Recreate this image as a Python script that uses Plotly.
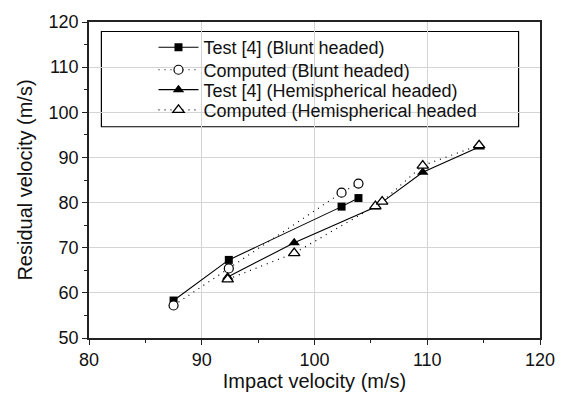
import plotly.graph_objects as go

# Data
blunt_test_x = [87.5, 92.4, 102.4, 103.9]
blunt_test_y = [58.3, 67.3, 79.1, 81.0]

blunt_comp_x = [87.5, 92.4, 102.4, 103.9]
blunt_comp_y = [57.2, 65.4, 82.2, 84.2]

hemi_test_x = [92.3, 98.2, 105.4, 109.6, 114.6]
hemi_test_y = [63.5, 71.1, 79.0, 86.7, 92.3]

hemi_comp_x = [92.3, 98.2, 105.4, 106.0, 109.6, 114.6]
hemi_comp_y = [63.0, 68.8, 79.2, 80.2, 88.2, 92.7]

names = [
    "Test [4] (Blunt headed)",
    "Computed (Blunt headed)",
    "Test [4] (Hemispherical headed)",
    "Computed (Hemispherical headed",
]

x_ticks = [80, 90, 100, 110, 120]
y_ticks = [50, 60, 70, 80, 90, 100, 110, 120]

FONT = "Liberation Sans, Arial, sans-serif"
DOT = "1px,5px"

fig = go.Figure()
fig.add_trace(go.Scatter(
    x=blunt_test_x, y=blunt_test_y, mode="lines+markers", name=names[0], legend="legend",
    line=dict(color="black", width=1.1),
    marker=dict(symbol="square", size=8, color="black"),
))
fig.add_trace(go.Scatter(
    x=blunt_comp_x, y=blunt_comp_y, mode="lines+markers", name=names[1], legend="legend2",
    line=dict(color="black", width=1.2, dash=DOT),
    marker=dict(symbol="circle", size=9, color="white", line=dict(color="black", width=1.2)),
))
fig.add_trace(go.Scatter(
    x=hemi_test_x, y=hemi_test_y, mode="lines+markers", name=names[2], legend="legend3",
    line=dict(color="black", width=1.1),
    marker=dict(symbol="triangle-up", size=10, color="black"),
))
fig.add_trace(go.Scatter(
    x=hemi_comp_x, y=hemi_comp_y, mode="lines+markers", name=names[3], legend="legend4",
    line=dict(color="black", width=1.2, dash=DOT),
    marker=dict(symbol="triangle-up", size=10, color="white", line=dict(color="black", width=1.3)),
))

# Legend frame
fig.add_shape(type="rect", xref="x", yref="y", x0=81.1, x1=118.1, y0=96.8, y1=117.9,
              line=dict(color="black", width=1.2), fillcolor="white", layer="below")

axis_common = dict(
    showline=True, linecolor="#222", linewidth=1.5, mirror=True,
    showgrid=True, gridcolor="#d4d4d4", gridwidth=1.2,
    ticks="outside", ticklen=5, tickwidth=1.2, tickcolor="#222",
    tickfont=dict(family=FONT, size=18, color="#111"),
    zeroline=False,
    minor=dict(ticks="outside", ticklen=3, tickwidth=1.2, tickcolor="#222", dtick=5, showgrid=False),
)

fig.update_xaxes(range=[80, 120], tickvals=x_ticks,
                 title=dict(text="Impact velocity (m/s)", font=dict(family=FONT, size=20, color="#111"), standoff=4),
                 **axis_common)
fig.update_yaxes(range=[50, 120], tickvals=y_ticks,
                 title=dict(text="Residual velocity (m/s)", font=dict(family=FONT, size=20, color="#111"), standoff=11),
                 **axis_common)

leg = dict(
    x=0.143, xanchor="left", yanchor="middle",
    bgcolor="rgba(0,0,0,0)", borderwidth=0,
    font=dict(family=FONT, size=18, color="#111"),
    itemwidth=40,
)
row_y = [0.919, 0.848, 0.785, 0.721]

fig.update_layout(
    width=567, height=400,
    margin=dict(l=89, r=24, t=16, b=57),
    paper_bgcolor="white", plot_bgcolor="white",
    font=dict(family=FONT, color="#111"),
    showlegend=True,
    legend=dict(leg, y=row_y[0]),
    legend2=dict(leg, y=row_y[1]),
    legend3=dict(leg, y=row_y[2]),
    legend4=dict(leg, y=row_y[3]),
)

fig.write_html("out.html")
